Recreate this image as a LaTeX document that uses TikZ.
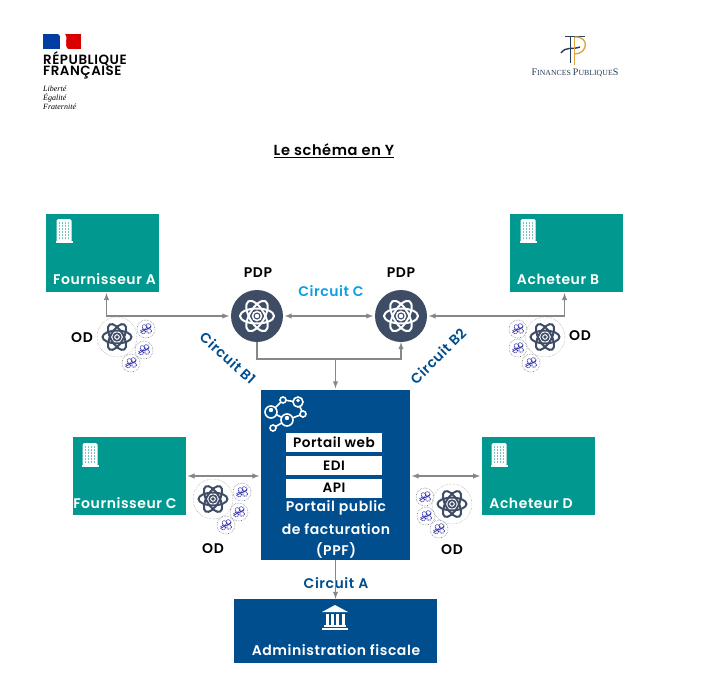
\documentclass[tikz,border=0pt]{standalone}
\usepackage{fontspec}
\setmainfont{Poppins}[BoldFont={Poppins SemiBold}]
\newfontfamily\serifbloc{Liberation Serif}
\usetikzlibrary{arrows,positioning,calc}
\definecolor{teal}{RGB}{0,152,143}
\definecolor{navy}{RGB}{0,78,141}
\definecolor{slate}{RGB}{62,76,102}
\definecolor{flux}{RGB}{135,135,135}
\definecolor{ciel}{RGB}{10,160,225}
\definecolor{rouage}{RGB}{50,50,170}
\definecolor{or}{RGB}{222,166,60}
\definecolor{marine}{RGB}{38,62,92}
\newcommand{\Lab}[1]{\fontsize{#1}{#1}\selectfont\bfseries\addfontfeature{LetterSpace=4}}
\newcommand{\Petit}[1]{\fontsize{#1}{#1}\selectfont}
\tikzset{
  acteur/.style={fill=teal,minimum width=113pt,minimum height=78pt,inner sep=0pt},
  bleu/.style={fill=navy,inner sep=0pt},
  blanc/.style={fill=white,minimum width=96pt,inner sep=0pt,text=black,font=\Lab{13.6}},
  txtw/.style={text=white,font=\Lab{14},inner sep=0pt},
  txtb/.style={text=black,font=\Lab{14},inner sep=0pt},
  circuit/.style={text=navy,font=\Lab{14},inner sep=0pt},
  pdp/.style={circle,fill=slate,minimum size=52pt,inner sep=0pt},
  lien/.style={draw=flux,line width=1.4pt,-latex,shorten >=1.5pt},
  liens/.style={draw=flux,line width=1.4pt,latex-latex,shorten >=1.5pt,shorten <=1.5pt},
  pics/atome/.style={code={
    \foreach \a in {0,60,120}
      \draw[#1,line width=2pt,rotate=\a] (0,0) ellipse (17 and 7.5);
    \draw[#1,line width=1.6pt] (0,0) circle (4.5);
    \fill[#1] (0,0) circle (2.2);
  }},
  pics/immeuble/.style={code={
    \fill[white,rounded corners=1.5pt] (-7.5,-12) rectangle (7.5,11);
    \fill[white] (-8.5,10) rectangle (8.5,12);
    \foreach \i in {-4.5,-1.5,1.5,4.5}
      \foreach \j in {-8,-5,-2,1,4,7}
        \fill[teal!55!white] (\i-.7,\j-.7) rectangle (\i+.7,\j+.7);
  }},
  pics/banque/.style={code={
    \fill[white] (-13,-5) -- (0,-12) -- (13,-5) -- cycle;
    \foreach \i in {-8,-2.7,2.7,8}
      \fill[white] (\i-1.5,-3) rectangle (\i+1.5,8);
    \fill[white] (-11,8) rectangle (11,10);
    \fill[white] (-13,10.5) rectangle (13,12.5);
  }},
  pics/rouages/.style={code={
    \draw[gray,densely dotted,line width=.6pt] (0,0) circle (9);
    \foreach \i/\j in {-3/2.5,2.5/-3,3/2,-1.5/-2}
      \draw[rouage,line width=1pt,densely dotted] (\i,\j) circle (2.4);
    \draw[rouage,line width=.8pt] (-5,3) -- (5,-2);
  }},
}
\begin{document}
\begin{tikzpicture}[x=1pt,y=-1pt]
  \useasboundingbox (0,0) rectangle (705,688);
  % logos
  \fill[navy!80!blue] (43,34) rectangle (60,49);
  \fill[red!85!black] (65,34) rectangle (81,49);
  \fill[white] (58,34) .. controls (64,38) and (60,44) .. (65,49) -- (68,49) .. controls (63,44) and (69,38) .. (65,34) -- cycle;
  \node[anchor=west,inner sep=0pt,font=\Lab{13.4}] (REP) at (43,59) {RÉPUBLIQUE};
  \node[anchor=west,inner sep=0pt,font=\Lab{13.4}] (FRA) at (43,73) {FRANÇAISE};
  \node[anchor=west,inner sep=0pt,font=\serifbloc\itshape\Petit{8}] (LIB) at (43,88.5) {Liberté};
  \node[anchor=west,inner sep=0pt,font=\serifbloc\itshape\Petit{8}] (EGA) at (43,97.5) {Égalité};
  \node[anchor=west,inner sep=0pt,font=\serifbloc\itshape\Petit{8}] (FRT) at (43,106.5) {Fraternité};
  \draw[marine,line width=1.8pt] (570.5,36) -- (570.5,63);
  \draw[marine,line width=1.4pt] (565,36.5) -- (585,36.5);
  \draw[marine,line width=1.4pt] (561,53) .. controls (566,46) and (572,50) .. (580,47);
  \draw[or,line width=1.6pt] (574.5,37) -- (574.5,65);
  \draw[or,line width=1.4pt] (574.5,37) .. controls (590,36) and (588,54) .. (574.5,54);
  \node[text=marine,inner sep=0pt,font=\serifbloc\Petit{7.8}] (FP) at (575,73) {{\Petit{10}F}INANCES {\Petit{10}P}UBLIQUE{\Petit{10}S}};
  % titre
  \node[inner sep=0pt,font=\Lab{14.6}] (T) at (334,151) {\underline{Le schéma en Y}};
  % boites
  \node[acteur] (FA) at (102.3,252.5) {};
  \node[acteur] (AB) at (566,252.5) {};
  \node[acteur] (FC) at (129.3,476) {};
  \node[acteur] (AD) at (538.3,476) {};
  \node[bleu,minimum width=149pt,minimum height=170pt] (PPF) at (335.5,475) {};
  \node[bleu,minimum width=203pt,minimum height=64pt] (ADM) at (335.5,631) {};
  \node[pdp] (P1) at (257,316) {};
  \node[pdp] (P2) at (401,316) {};
  \node[blanc,minimum height=19pt] (WEB) at (334,442) {Portail web};
  \node[blanc,minimum height=19pt] (EDI) at (334,465.5) {EDI};
  \node[blanc,minimum height=19pt] (API) at (334,488) {API};
  % textes
  \node[txtw] (FAt) at (104.5,279) {Fournisseur A};
  \node[txtw] (ABt) at (558,279) {Acheteur B};
  \node[txtw] (FCt) at (125,503) {Fournisseur C};
  \node[txtw] (ADt) at (531,503) {Acheteur D};
  \node[txtw] (PP1) at (336,508) {Portail public};
  \node[txtw] (PP2) at (336,529) {de facturation};
  \node[txtw] (PP3) at (336,550) {(PPF)};
  \node[txtw] (ADMt) at (336,650) {Administration fiscale};
  \node[txtb] (PD1) at (258,273) {PDP};
  \node[txtb] (PD2) at (401,273) {PDP};
  \node[txtb] (OD1) at (82,338) {OD};
  \node[txtb] (OD2) at (580,336) {OD};
  \node[txtb] (OD3) at (213,549) {OD};
  \node[txtb] (OD4) at (452,550) {OD};
  \node[circuit,text=ciel] (CC) at (331,291) {Circuit C};
  \node[circuit] (CA) at (336,583) {Circuit A};
  \node[circuit,rotate=-42] (CB1) at (228,358) {Circuit B1};
  \node[circuit,rotate=45] (CB2) at (438,356) {Circuit B2};
  % fleches
  \coordinate (FAp) at (106.5,291.5);
  \coordinate (ABp) at (564.5,291.5);
  \coordinate (J) at (335.5,359);
  \draw[liens] (FAp) |- (P1.west);
  \draw[liens] (ABp) |- (P2.east);
  \draw[liens] (P1.east) -- (P2.west);
  \draw[lien,shorten >=0pt] (P1.south) |- (J) -| (P2.south);
  \draw[lien] (J) -- (PPF.north);
  \draw[liens] (FC.east) -- (FC.east -| PPF.west);
  \draw[liens] (AD.west) -- (AD.west -| PPF.east);
  \draw[lien,shorten >=0pt] (PPF.south) -- (ADM.north);
  % icones
  \pic at (P1.center) {atome=white};
  \pic at (P2.center) {atome=white};
  \pic at (64,231) {immeuble};
  \pic at (528,231) {immeuble};
  \pic at (90,455) {immeuble};
  \pic at (499,455) {immeuble};
  \pic at (335,617) {banque};
  \foreach \x/\y in {117/337,545/337,213/499,452/504} {
    \draw[gray,densely dotted] (\x,\y) circle (20);
    \pic[scale=.85] at (\x,\y) {atome=slate};
  }
  \foreach \x/\y in {146/329,144/350,131/363,518/329,518/348,531/363,242/492,239/512,226/525,425/497,426/516,439/529}
    \pic at (\x,\y) {rouages};
  \draw[white,line width=1.6pt] (283,400) -- (298,402) -- (303,414) -- (287,420) -- (273,428) (287,420) -- (271,412) -- (283,400);
  \foreach \x/\y/\r in {283/400/3,298/402/5,303/414/3,287/420/6,271/412/6,273/428/3}
    \draw[white,fill=navy,line width=1.6pt] (\x,\y) circle (\r);
  \foreach \x/\y/\r in {298/400.5/1.8,287/418/2.2,271/410/2.2}
    \fill[white] (\x,\y) circle (\r);
\end{tikzpicture}
\end{document}
